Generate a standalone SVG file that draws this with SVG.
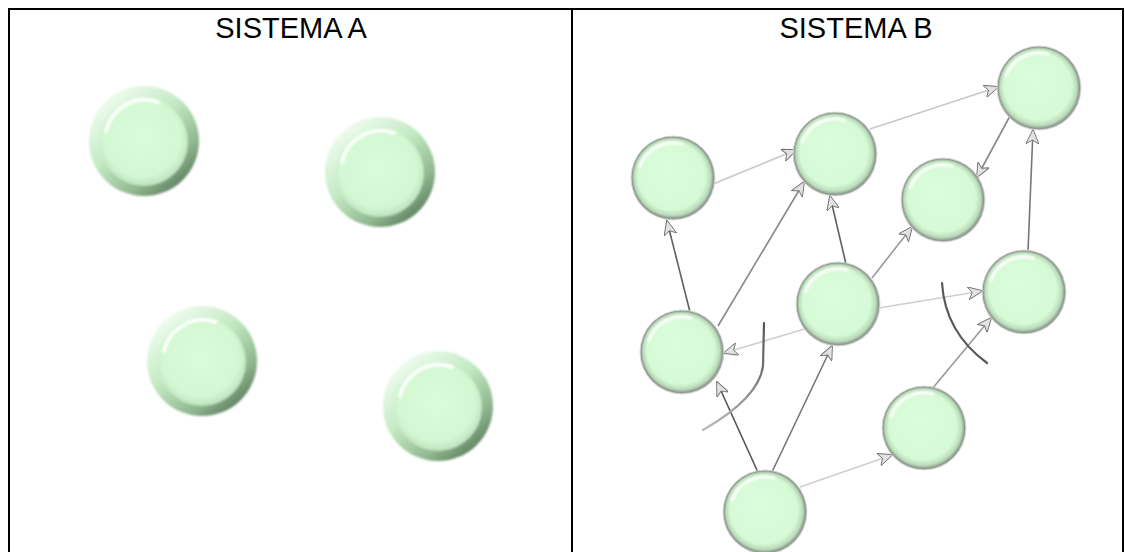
<svg xmlns="http://www.w3.org/2000/svg" xmlns:xlink="http://www.w3.org/1999/xlink" width="1125" height="552" viewBox="0 0 1125 552">
  <defs>
    <style>
      .title { font-family: "Liberation Sans", Arial, sans-serif; font-size: 29px; fill: #000; text-anchor: middle; }
      .frame { stroke: #000; stroke-width: 2; fill: none; }
      .edge { fill: none; stroke-width: 1.6; marker-end: url(#arrow); }
      .curve { fill: none; stroke-width: 2.2; stroke-linecap: round; }
    </style>

    <!-- soft edges -->
    <filter id="soft" x="-20%" y="-20%" width="140%" height="140%">
      <feGaussianBlur stdDeviation="1.2"/>
    </filter>
    <filter id="glow" x="-30%" y="-30%" width="160%" height="160%">
      <feGaussianBlur stdDeviation="0.8"/>
    </filter>

    <!-- large bevelled button (left panel) -->
    <linearGradient id="ringA" x1="0.15" y1="0.1" x2="0.85" y2="0.95">
      <stop offset="0" stop-color="#f0fcf0"/>
      <stop offset="0.4" stop-color="#c4eac4"/>
      <stop offset="0.75" stop-color="#90b890"/>
      <stop offset="1" stop-color="#587658"/>
    </linearGradient>
    <radialGradient id="innerA" cx="0.48" cy="0.45" r="0.55">
      <stop offset="0" stop-color="#dafcda"/>
      <stop offset="0.8" stop-color="#d3f8d3"/>
      <stop offset="1" stop-color="#bde2bd"/>
    </radialGradient>

    <!-- small glossy ball (right panel) -->
    <radialGradient id="bodyB" cx="0.5" cy="0.5" r="0.5" fx="0.42" fy="0.38">
      <stop offset="0" stop-color="#dcfddc"/>
      <stop offset="0.8" stop-color="#d6fad6"/>
      <stop offset="0.91" stop-color="#bcdcbc"/>
      <stop offset="0.97" stop-color="#8c9a8c"/>
      <stop offset="1" stop-color="#c0c0c0"/>
    </radialGradient>

    <g id="ballA">
      <circle r="55" fill="url(#ringA)" filter="url(#soft)"/>
      <circle cx="0" cy="1" r="44" fill="url(#innerA)" filter="url(#glow)"/>
      <path d="M -38 -10 A 40 40 0 0 1 14 -39" fill="none" stroke="#ffffff" stroke-width="4" stroke-linecap="round" opacity="0.9" filter="url(#glow)"/>
    </g>

    <g id="ballB">
      <circle r="42" fill="url(#bodyB)" stroke="#d0d0d0" stroke-width="0.8"/>
      <path d="M -33 -12 A 35 35 0 0 1 9 -34" fill="none" stroke="#ffffff" stroke-width="3.2" stroke-linecap="round" opacity="0.95" filter="url(#glow)"/>
    </g>

    <marker id="arrow" viewBox="0 0 15 13" refX="14" refY="6.5" markerWidth="15" markerHeight="13" markerUnits="userSpaceOnUse" orient="auto">
      <path d="M0,0 L15,6.5 L0,13 L4,6.5 Z" fill="#e2e2e2" stroke="#707070" stroke-width="0.9" stroke-linejoin="round"/>
    </marker>

    <linearGradient id="curveFade" x1="0" y1="0" x2="0" y2="1">
      <stop offset="0" stop-color="#555"/>
      <stop offset="0.5" stop-color="#777"/>
      <stop offset="1" stop-color="#bbb"/>
    </linearGradient>
  </defs>

  <rect width="1125" height="552" fill="#ffffff"/>

  <!-- table frame -->
  <g id="frame">
    <path class="frame" d="M 9 552 L 9 9 L 1123 9 L 1123 552"/>
    <line class="frame" x1="572" y1="9" x2="572" y2="552"/>
  </g>

  <text class="title" x="291" y="38">SISTEMA A</text>
  <text class="title" x="856" y="38">SISTEMA B</text>

  <!-- left panel: isolated elements -->
  <g id="a1"><use xlink:href="#ballA" x="144" y="141"/></g>
  <g id="a2"><use xlink:href="#ballA" x="380" y="172"/></g>
  <g id="a3"><use xlink:href="#ballA" x="202" y="361"/></g>
  <g id="a4"><use xlink:href="#ballA" x="438" y="406"/></g>

  <!-- right panel: connections -->
  <g id="connectors">
    <line class="edge" x1="713" y1="184" x2="796" y2="150" stroke="#c8c8c8"/>
    <line class="edge" x1="870" y1="129" x2="998" y2="87" stroke="#c8c8c8"/>
    <line class="edge" x1="1010" y1="116" x2="977" y2="177" stroke="#888"/>
    <line class="edge" x1="690" y1="312" x2="667" y2="221" stroke="#606060"/>
    <line class="edge" x1="718" y1="326" x2="804" y2="182" stroke="#888"/>
    <line class="edge" x1="846" y1="264" x2="830" y2="196" stroke="#606060"/>
    <line class="edge" x1="872" y1="278" x2="912" y2="227" stroke="#999"/>
    <line class="edge" x1="879" y1="308" x2="982" y2="291" stroke="#cfcfcf"/>
    <line class="edge" x1="808" y1="328" x2="724" y2="353" stroke="#cfcfcf"/>
    <line class="edge" x1="1028" y1="251" x2="1033" y2="130" stroke="#777"/>
    <line class="edge" x1="761" y1="479" x2="717" y2="382" stroke="#555"/>
    <line class="edge" x1="772" y1="472" x2="832" y2="346" stroke="#777"/>
    <line class="edge" x1="800" y1="487" x2="892" y2="455" stroke="#cfcfcf"/>
    <line class="edge" x1="932" y1="389" x2="991" y2="318" stroke="#999"/>
    <path class="curve" d="M 764 323 L 763 366 Q 759 398 703 430" stroke="url(#curveFade)"/>
    <path class="curve" d="M 942 283 Q 945 332 987 363" stroke="#5a5a5a"/>
  </g>

  <!-- right panel: elements -->
  <g id="b1"><use xlink:href="#ballB" x="673" y="178"/></g>
  <g id="b2"><use xlink:href="#ballB" x="835" y="154"/></g>
  <g id="b3"><use xlink:href="#ballB" x="1039" y="88"/></g>
  <g id="b4"><use xlink:href="#ballB" x="943" y="200"/></g>
  <g id="b5"><use xlink:href="#ballB" x="682" y="352"/></g>
  <g id="b6"><use xlink:href="#ballB" x="838" y="304"/></g>
  <g id="b7"><use xlink:href="#ballB" x="1024" y="292"/></g>
  <g id="b8"><use xlink:href="#ballB" x="924" y="428"/></g>
  <g id="b9"><use xlink:href="#ballB" x="765" y="512"/></g>
</svg>
